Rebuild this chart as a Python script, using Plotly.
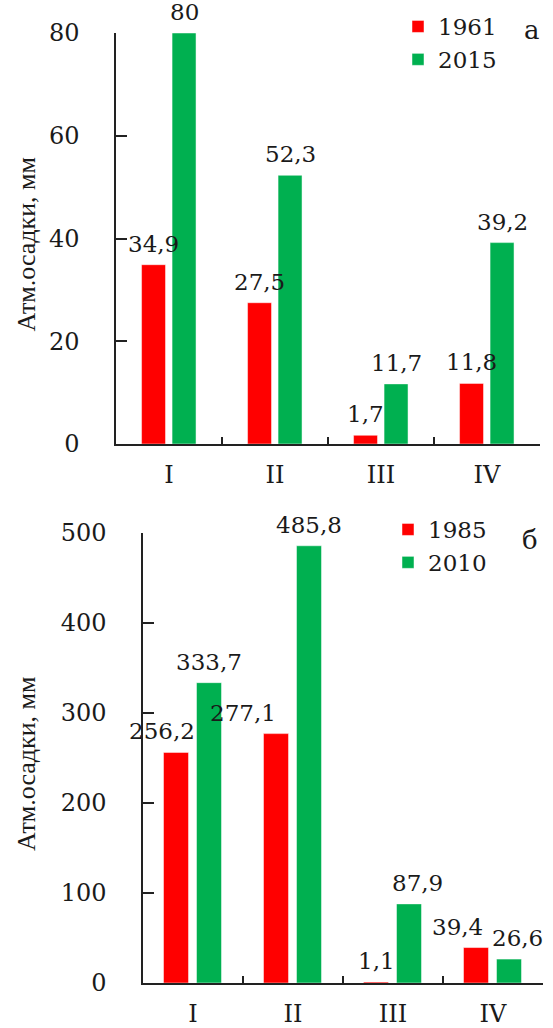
import plotly.graph_objects as go

# Precipitation totals by period (mm)
periods = ["I", "II", "III", "IV"]

years_a = ["1961", "2015"]
precip_1961 = [34.9, 27.5, 1.7, 11.8]
precip_2015 = [80, 52.3, 11.7, 39.2]

years_b = ["1985", "2010"]
precip_1985 = [256.2, 277.1, 1.1, 39.4]
precip_2010 = [333.7, 485.8, 87.9, 26.6]

W, H = 553, 1028
FONT = "DejaVu Serif"
TITLE_FONT = "Liberation Serif"
RED = "#FF0000"
GREEN = "#00B050"
TXT = "#1a1a1a"
TICK_SIZE = 24
LABEL_SIZE = 23

# horizontal nudges (px) for value labels that would otherwise collide
label_nudge = {
    ("1985", "I"): -14,
    ("1985", "II"): -33,
    ("1985", "IV"): -19,
    ("2010", "III"): 8,
    ("2010", "IV"): 8,
}


def fmt(v):
    return f"{v:g}".replace(".", ",")


# panel geometry in pixels: (left, right, top, bottom)
panels = {
    "a": dict(box=(116, 540, 33, 444), xa="x", ya="y", legend="legend"),
    "b": dict(box=(143, 543, 533, 983), xa="x2", ya="y2", legend="legend2"),
}
# bar width and left offsets in category units
bar_geom = {
    "a": dict(width=0.226, offsets=(-0.259, 0.029)),
    "b": dict(width=0.25, offsets=(-0.295, 0.035)),
}

fig = go.Figure()
annotations = []

series = {
    "a": (years_a, [precip_1961, precip_2015]),
    "b": (years_b, [precip_1985, precip_2010]),
}

for key, (names, values_list) in series.items():
    p = panels[key]
    g = bar_geom[key]
    left, right, top, bottom = p["box"]
    px_per_cat = (right - left) / len(periods)
    for name, vals, off, col in zip(names, values_list, g["offsets"], (RED, GREEN)):
        fig.add_trace(go.Bar(
            x=periods, y=vals, name=name,
            marker=dict(color=col, line=dict(color="rgba(255,255,255,0.6)", width=0.8)),
            width=g["width"], offset=off,
            xaxis=p["xa"], yaxis=p["ya"], legend=p["legend"],
            cliponaxis=False,
        ))
        center = off + g["width"] / 2
        for cat, v in zip(periods, vals):
            annotations.append(dict(
                x=cat, y=v, xref=p["xa"], yref=p["ya"],
                text=fmt(v), showarrow=False,
                xshift=center * px_per_cat + label_nudge.get((name, cat), 0),
                yshift=6,
                yanchor="bottom", xanchor="center",
                font=dict(family=FONT, size=LABEL_SIZE, color=TXT),
            ))

# y-axis titles and panel letters
for key, letter, lx, ly in (("a", "а", 532, 30), ("b", "б", 530, 540)):
    left, right, top, bottom = panels[key]["box"]
    annotations.append(dict(
        x=26 / W, y=1 - ((top + bottom) / 2 + 6) / H, xref="paper", yref="paper",
        text="Атм.осадки, мм", textangle=-90, showarrow=False,
        xanchor="center", yanchor="middle",
        font=dict(family=TITLE_FONT, size=26, color=TXT),
    ))
    annotations.append(dict(
        x=lx / W, y=1 - ly / H, xref="paper", yref="paper",
        text=letter, showarrow=False, xanchor="center", yanchor="middle",
        font=dict(family=FONT, size=26, color=TXT),
    ))


def xaxis_cfg(box, anchor):
    left, right, top, bottom = box
    return dict(
        domain=[left / W, right / W], anchor=anchor, automargin=False,
        type="category", categoryorder="array", categoryarray=periods,
        range=[-0.5, len(periods) - 0.5], autorange=False,
        showline=True, linecolor="#222", linewidth=1.5,
        ticks="inside", tickson="boundaries", ticklen=7, tickwidth=1.5, tickcolor="#222",
        showgrid=False, zeroline=False, ticklabelstandoff=8,
        tickfont=dict(family=FONT, size=TICK_SIZE, color=TXT),
        fixedrange=True,
    )


def yaxis_cfg(box, anchor, rng, dtick):
    left, right, top, bottom = box
    return dict(
        domain=[1 - bottom / H, 1 - top / H], anchor=anchor, automargin=False,
        range=rng, autorange=False, dtick=dtick,
        showline=True, linecolor="#222", linewidth=1.5,
        ticks="inside", ticklen=11, tickwidth=1.5, tickcolor="#222",
        showgrid=False, zeroline=False, ticklabelstandoff=30,
        tickfont=dict(family=FONT, size=TICK_SIZE, color=TXT),
        fixedrange=True,
    )


legend_style = dict(
    xanchor="left", yanchor="top", bgcolor="rgba(0,0,0,0)",
    font=dict(family=FONT, size=23, color=TXT),
    itemwidth=30, tracegroupgap=0, traceorder="normal",
)

fig.update_layout(
    width=W, height=H,
    margin=dict(l=0, r=0, t=0, b=0, autoexpand=False),
    paper_bgcolor="white", plot_bgcolor="white",
    barmode="group",
    xaxis=xaxis_cfg(panels["a"]["box"], "y"),
    yaxis=yaxis_cfg(panels["a"]["box"], "x", [0, 80], 20),
    xaxis2=xaxis_cfg(panels["b"]["box"], "y2"),
    yaxis2=yaxis_cfg(panels["b"]["box"], "x2", [0, 500], 100),
    legend=dict(x=398 / W, y=1 - 5 / H, **legend_style),
    legend2=dict(x=388 / W, y=1 - 508 / H, **legend_style),
    annotations=annotations,
    showlegend=True,
)

fig.write_html("out.html")
